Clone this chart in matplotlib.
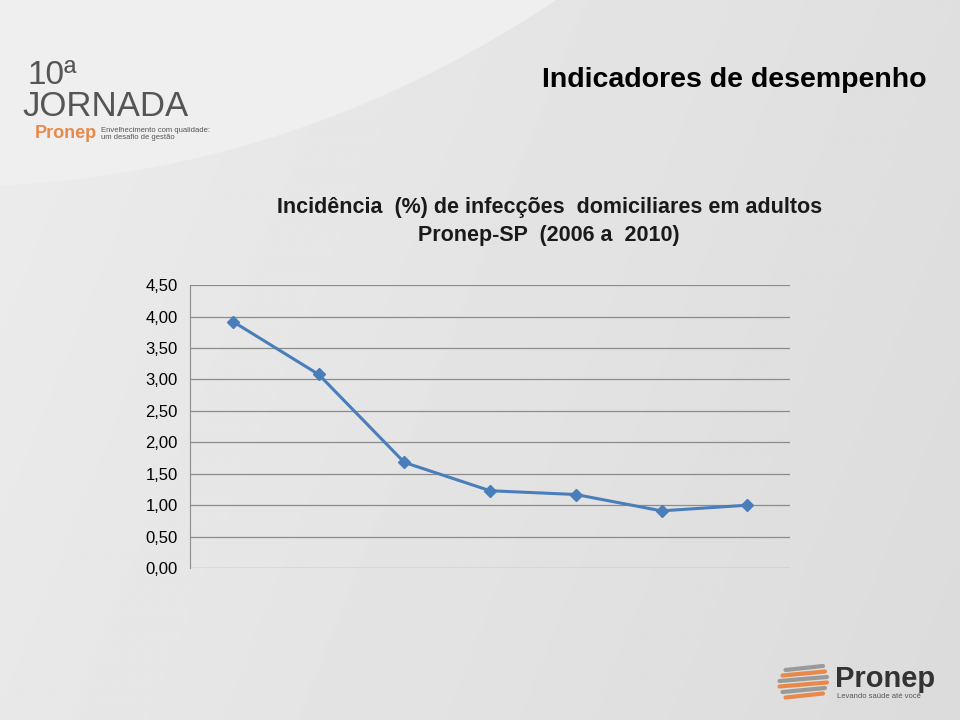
import numpy as np
import matplotlib.pyplot as plt
from matplotlib.patches import Polygon

# data (no x labels shown in the original)
periods = ["P1", "P2", "P3", "P4", "P5", "P6", "P7"]
incidence = [3.92, 3.08, 1.68, 1.23, 1.17, 0.91, 1.00]
yticks = [0.0, 0.5, 1.0, 1.5, 2.0, 2.5, 3.0, 3.5, 4.0, 4.5]
ytick_labels = ["0,00", "0,50", "1,00", "1,50", "2,00", "2,50", "3,00", "3,50", "4,00", "4,50"]

fig = plt.figure(figsize=(9.6, 7.2), dpi=100)

# slide background: light grey gradient, pixel coords
bg = fig.add_axes([0, 0, 1, 1], zorder=-10)
grad = np.linspace(0, 1, 256)
img = 0.925 - 0.05 * np.outer(np.ones(256), grad) - 0.015 * np.outer(grad, np.ones(256))
bg.imshow(img, cmap="gray", vmin=0, vmax=1, aspect="auto", extent=[0, 960, 720, 0])
t = np.linspace(0, 1, 60)
cx = (1 - t) ** 2 * 555 + 2 * (1 - t) * t * 300 + t ** 2 * 0
cy = (1 - t) ** 2 * 0 + 2 * (1 - t) * t * 170 + t ** 2 * 185
pts = np.column_stack([np.r_[0, cx], np.r_[0, cy]])
bg.add_patch(Polygon(pts, closed=True, color="#efefef", zorder=2))
bg.set_xlim(0, 960)
bg.set_ylim(720, 0)
bg.axis("off")

# top-left logo as text
bg.text(28, 76, "10ª", fontsize=24, color="#555555", family="Liberation Sans", va="center", zorder=3)
bg.text(22, 107, "JORNADA", fontsize=25, color="#555555", family="Liberation Sans", va="center", zorder=3)
bg.text(35, 134, "Pronep", fontsize=13, color="#e8894a", weight="bold", family="Liberation Sans",
        va="center", zorder=3)
bg.text(101, 134, "Envelhecimento com qualidade:\num desafio de gestão", fontsize=5.5, color="#555555",
        family="Liberation Sans", va="center", linespacing=1.1, zorder=3)

# bottom-right logo
for i, c in enumerate(["#9a9a9a", "#e8894a", "#9a9a9a", "#e8894a", "#9a9a9a", "#e8894a"]):
    y0 = 668 + i * 5.5
    bg.plot([778 + abs(i - 2.5) * 3, 828 - abs(i - 2.5) * 2], [y0 + 2, y0 - 2], color=c, lw=3,
            solid_capstyle="round", zorder=3)
bg.text(835, 679, "Pronep", fontsize=21, color="#333333", weight="bold", family="Liberation Sans",
        va="center", zorder=3)
bg.text(837, 697, "Levando saúde até você", fontsize=5.5, color="#555555", family="Liberation Sans",
        va="center", zorder=3)

fig.text(0.765, 0.889, "Indicadores de desempenho", fontsize=20.5, weight="bold",
         family="Liberation Sans", ha="center", va="center")
fig.text(0.572, 0.692, "Incidência  (%) de infecções  domiciliares em adultos\nPronep-SP  (2006 a  2010)",
         fontsize=15.5, weight="bold", color="#1a1a1a", family=["Liberation Sans", "DejaVu Sans"],
         ha="center", va="center", linespacing=1.45)

ax = fig.add_axes([0.198, 0.211, 0.625, 0.393])
ax.patch.set_alpha(0)
x = np.arange(len(periods))
ax.plot(x, incidence, color="#4a7ebb", lw=2.2, marker="D", markersize=6.5, zorder=3)
ax.set_xlim(-0.5, len(periods) - 0.5)
ax.set_ylim(0, 4.5)
ax.set_yticks(yticks)
ax.set_yticklabels(ytick_labels, fontsize=12, family="Liberation Sans")
ax.set_xticks([])
ax.grid(axis="y", color="#8c8c8c", lw=0.9)
ax.tick_params(axis="y", length=0, pad=9)
for s in ["top", "right", "bottom"]:
    ax.spines[s].set_visible(False)
ax.spines["left"].set_color("#8c8c8c")

fig.savefig("out.png", dpi=100)
